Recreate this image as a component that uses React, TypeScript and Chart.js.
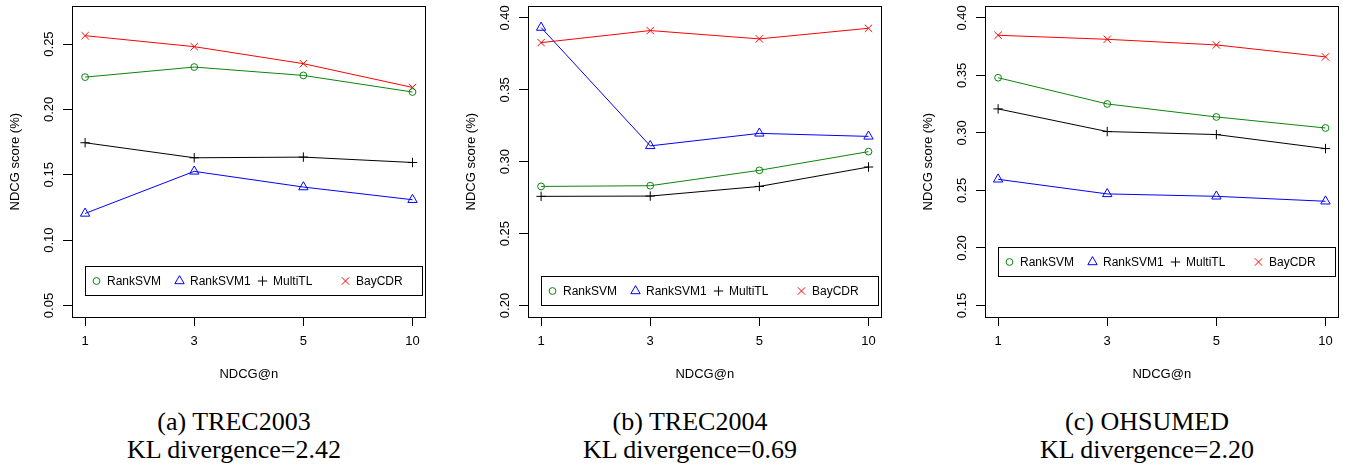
import React, { useEffect, useRef } from 'react';
import { Chart, registerables } from 'chart.js';
import { drawPoint } from 'chart.js/helpers';

Chart.register(...registerables);

// ---------- data ----------
const xLabels = ['1', '3', '5', '10'];
const seriesNames = ['RankSVM', 'RankSVM1', 'MultiTL', 'BayCDR'];

const trec2003RankSVM = [0.2247, 0.2324, 0.2260, 0.2133];
const trec2003RankSVM1 = [0.1204, 0.1526, 0.1406, 0.1309];
const trec2003MultiTL = [0.1745, 0.1630, 0.1635, 0.1594];
const trec2003BayCDR = [0.2564, 0.2480, 0.2350, 0.2168];

const trec2004RankSVM = [0.2828, 0.2833, 0.2940, 0.3070];
const trec2004RankSVM1 = [0.3933, 0.3110, 0.3197, 0.3176];
const trec2004MultiTL = [0.2759, 0.2761, 0.2828, 0.2963];
const trec2004BayCDR = [0.3828, 0.3912, 0.3854, 0.3928];

const ohsumedRankSVM = [0.3480, 0.3252, 0.3139, 0.3043];
const ohsumedRankSVM1 = [0.2597, 0.2470, 0.2449, 0.2406];
const ohsumedMultiTL = [0.3209, 0.3012, 0.2986, 0.2864];
const ohsumedBayCDR = [0.3849, 0.3814, 0.3765, 0.3661];

const trec2003YTicks = [0.05, 0.10, 0.15, 0.20, 0.25];
const trec2004YTicks = [0.20, 0.25, 0.30, 0.35, 0.40];
const ohsumedYTicks = [0.15, 0.20, 0.25, 0.30, 0.35, 0.40];

const trec2003YLim = [0.05, 0.27];
const trec2004YLim = [0.20, 0.40];
const ohsumedYLim = [0.15, 0.40];

// legend top-left anchored in data coordinates (x index 1, y value)
const trec2003LegendY = 0.08;
const trec2004LegendY = 0.22;
const ohsumedLegendY = 0.20;

const trec2003Caption = ['(a) TREC2003', 'KL divergence=2.42'];
const trec2004Caption = ['(b) TREC2004', 'KL divergence=0.69'];
const ohsumedCaption = ['(c) OHSUMED', 'KL divergence=2.20'];

// ---------- styles ----------
const SANS = '"Liberation Sans", Arial, Helvetica, sans-serif';
const SERIF = '"Liberation Serif", "Times New Roman", serif';
const seriesStyles = [
  { color: '#0b840b', pointStyle: 'circle', radius: 3.4 },
  { color: '#0000ff', pointStyle: 'triangle', radius: 5.4 },
  { color: '#000000', pointStyle: 'cross', radius: 4.7 },
  { color: '#ff0000', pointStyle: 'crossRot', radius: 5.2 },
];

const CANVAS_W = 432;
const CANVAS_H = 390;

const alignPx = (v: number) => Math.round(v - 0.5) + 0.5;

const rStylePlugin = {
  id: 'rStyle',
  afterDatasetsDraw(chart: any) {
    const { ctx, chartArea, scales } = chart;
    const ys = scales.y;
    const xs = scales.x;
    const legendY = chart.options.plugins.rStyle.legendY;
    // y tick labels, rotated as in R
    ctx.save();
    ctx.font = `13px ${SANS}`;
    ctx.fillStyle = '#000';
    ctx.textAlign = 'center';
    ctx.textBaseline = 'middle';
    ys.ticks.forEach((t: any) => {
      const py = ys.getPixelForValue(t.value);
      ctx.save();
      ctx.translate(chartArea.left - 23, py);
      ctx.rotate(-Math.PI / 2);
      ctx.fillText(Number(t.value).toFixed(2), 0, 0);
      ctx.restore();
    });
    // plot box
    ctx.strokeStyle = '#000';
    ctx.lineWidth = 1;
    const l = alignPx(chartArea.left);
    const r = alignPx(chartArea.right);
    const tp = alignPx(chartArea.top);
    const b = alignPx(chartArea.bottom);
    ctx.strokeRect(l, tp, r - l, b - tp);

    // legend
    const bx = alignPx(xs.getPixelForValue(1));
    const by = alignPx(ys.getPixelForValue(legendY));
    const bw = 337;
    const bh = 29;
    ctx.fillStyle = '#fff';
    ctx.fillRect(bx, by, bw, bh);
    ctx.strokeRect(bx, by, bw, bh);
    const markerOffsets = [11, 94, 177, 260];
    const cy = by + bh / 2;
    chart.data.datasets.forEach((ds: any, i: number) => {
      const st = seriesStyles[i];
      const mx = bx + markerOffsets[i];
      ctx.strokeStyle = st.color;
      ctx.fillStyle = 'rgba(0,0,0,0)';
      ctx.lineWidth = 1;
      drawPoint(ctx, { pointStyle: st.pointStyle, radius: st.radius, rotation: 0, borderWidth: 1 } as any, mx, cy);
      ctx.fillStyle = '#000';
      ctx.font = `12px ${SANS}`;
      ctx.textAlign = 'left';
      ctx.textBaseline = 'middle';
      ctx.fillText(ds.label, mx + 10.5, cy + 0.5);
    });
    ctx.restore();
  },
};

type PanelProps = {
  series: number[][];
  yTicks: number[];
  yLim: number[];
  legendY: number;
};

function Panel({ series, yTicks, yLim, legendY }: PanelProps) {
  const ref = useRef<HTMLCanvasElement | null>(null);
  useEffect(() => {
    if (!ref.current) return;
    const span = yLim[1] - yLim[0];
    const xMin = 1 - 0.04 * (xLabels.length - 1);
    const xMax = xLabels.length + 0.04 * (xLabels.length - 1);
    const chart = new Chart(ref.current, {
      type: 'line',
      data: {
        datasets: series.map((vals, i) => ({
          label: seriesNames[i],
          data: vals.map((v, j) => ({ x: j + 1, y: v })),
          borderColor: seriesStyles[i].color,
          backgroundColor: 'rgba(0,0,0,0)',
          pointBorderColor: seriesStyles[i].color,
          pointBackgroundColor: 'rgba(0,0,0,0)',
          pointStyle: seriesStyles[i].pointStyle as any,
          pointRadius: seriesStyles[i].radius,
          pointHoverRadius: seriesStyles[i].radius,
          pointBorderWidth: 1,
          borderWidth: 1,
          tension: 0,
          fill: false,
        })),
      },
      options: {
        animation: false,
        responsive: false,
        events: [],
        layout: { padding: { top: 6.3, right: 4, bottom: 0, left: 0 } },
        plugins: {
          legend: { display: false },
          tooltip: { enabled: false },
          rStyle: { legendY },
        } as any,
        scales: {
          x: {
            type: 'linear',
            min: xMin,
            max: xMax,
            afterBuildTicks: (axis: any) => {
              axis.ticks = xLabels.map((_, i) => ({ value: i + 1 }));
            },
            afterFit: (axis: any) => {
              axis.height = 73;
            },
            ticks: {
              callback: (v: any) => xLabels[Math.round(v) - 1] ?? '',
              font: { family: SANS, size: 13 },
              color: '#000',
              padding: 7.5,
              maxRotation: 0,
              minRotation: 0,
              autoSkip: false,
            },
            grid: {
              display: true,
              drawOnChartArea: false,
              drawTicks: true,
              tickLength: 9,
              color: '#000',
              tickColor: '#000',
              lineWidth: 1,
            },
            border: { display: false },
            title: {
              display: true,
              text: 'NDCG@n',
              color: '#000',
              font: { family: SANS, size: 13, lineHeight: 1.2 },
              padding: { top: 0, bottom: 8.2 },
            },
          },
          y: {
            type: 'linear',
            min: yLim[0] - 0.04 * span,
            max: yLim[1] + 0.04 * span,
            afterBuildTicks: (axis: any) => {
              axis.ticks = yTicks.map((v) => ({ value: v }));
            },
            afterFit: (axis: any) => {
              axis.width = 72;
            },
            ticks: { display: false },
            grid: {
              display: true,
              drawOnChartArea: false,
              drawTicks: true,
              tickLength: 9,
              color: '#000',
              tickColor: '#000',
              lineWidth: 1,
            },
            border: { display: false },
            title: {
              display: true,
              text: 'NDCG score (%)',
              color: '#000',
              font: { family: SANS, size: 13, lineHeight: 1.2 },
              padding: { top: 7.7, bottom: 0 },
            },
          },
        },
      },
      plugins: [rStylePlugin as any],
    });
    return () => chart.destroy();
  }, [series, yTicks, yLim, legendY]);
  return <canvas ref={ref} width={CANVAS_W} height={CANVAS_H} style={{ width: CANVAS_W, height: CANVAS_H, display: 'block' }} />;
}

const panels = [
  {
    left: 0,
    series: [trec2003RankSVM, trec2003RankSVM1, trec2003MultiTL, trec2003BayCDR],
    yTicks: trec2003YTicks,
    yLim: trec2003YLim,
    legendY: trec2003LegendY,
    caption: trec2003Caption,
  },
  {
    left: 456,
    series: [trec2004RankSVM, trec2004RankSVM1, trec2004MultiTL, trec2004BayCDR],
    yTicks: trec2004YTicks,
    yLim: trec2004YLim,
    legendY: trec2004LegendY,
    caption: trec2004Caption,
  },
  {
    left: 913,
    series: [ohsumedRankSVM, ohsumedRankSVM1, ohsumedMultiTL, ohsumedBayCDR],
    yTicks: ohsumedYTicks,
    yLim: ohsumedYLim,
    legendY: ohsumedLegendY,
    caption: ohsumedCaption,
  },
];

export default function App() {
  return (
    <div style={{ position: 'absolute', left: 0, top: 0, width: 1346, height: 465, background: '#fff', overflow: 'hidden' }}>
      {panels.map((p, i) => (
        <React.Fragment key={i}>
          <div style={{ position: 'absolute', left: p.left, top: 0 }}>
            <Panel series={p.series} yTicks={p.yTicks} yLim={p.yLim} legendY={p.legendY} />
          </div>
          <div
            style={{
              position: 'absolute',
              left: p.left + 6,
              top: 407.5,
              width: 456,
              textAlign: 'center',
              fontFamily: SERIF,
              fontSize: 26,
              lineHeight: '28.5px',
              color: '#000',
              whiteSpace: 'nowrap',
            }}
          >
            <div>{p.caption[0]}</div>
            <div>{p.caption[1]}</div>
          </div>
        </React.Fragment>
      ))}
    </div>
  );
}
